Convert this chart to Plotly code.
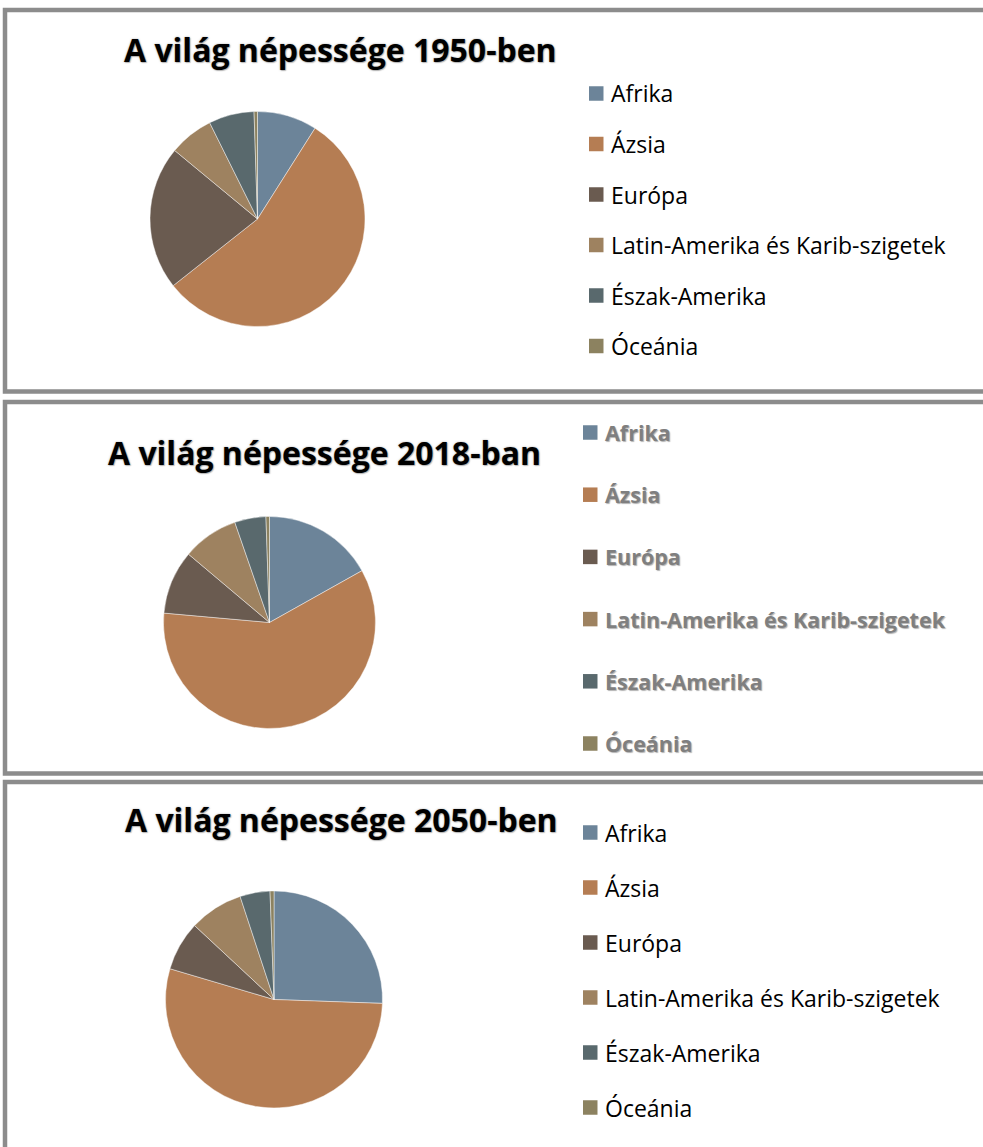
import plotly.graph_objects as go

W, H = 983, 1147

categories = ["Afrika", "Ázsia", "Európa", "Latin-Amerika és Karib-szigetek", "Észak-Amerika", "Óceánia"]
colors = ["#6C8499", "#B57D53", "#6A5B50", "#9E8260", "#59696D", "#8C8260"]

titles = ["A világ népessége 1950-ben", "A világ népessége 2018-ban", "A világ népessége 2050-ben"]
# population, millions
pop_1950 = [228, 1404, 549, 169, 173, 13]
pop_2018 = [1288, 4545, 743, 652, 364, 41]
pop_2050 = [2489, 5257, 716, 780, 435, 57]
series = [pop_1950, pop_2018, pop_2050]

# layout (pixels)
pie_centers = [(257.5, 219), (269.5, 622.5), (274, 999.5)]
pie_radius = [107.5, 106, 108.5]
title_pos = [(122, 50), (106, 452), (123, 820)]
legend_x = [589, 583, 583]
legend_y0 = [93.5, 432.5, 832.5]
legend_step = [50.5, 62.2, 55]
panel_boxes = [(10, 391.5), (402, 773.5), (782, 1170)]

FONT = "Open Sans"

def px(x):
    return x / W

def py(y):
    return 1 - y / H

fig = go.Figure()
shapes = []
annotations = []

for i, vals in enumerate(series):
    cx, cy = pie_centers[i]
    r = pie_radius[i]
    fig.add_trace(go.Pie(
        labels=categories, values=vals, sort=False, direction="clockwise", rotation=0,
        marker=dict(colors=colors, line=dict(color="rgba(255,255,255,0.55)", width=0.8)),
        textinfo="none", hoverinfo="label+percent", showlegend=False,
        domain=dict(x=[px(cx - r), px(cx + r)], y=[py(cy + r), py(cy - r)]),
    ))

    y0, y1 = panel_boxes[i]
    shapes.append(dict(type="rect", xref="paper", yref="paper",
                       x0=px(5), x1=px(1010), y0=py(y1), y1=py(y0),
                       line=dict(color="#8C8C8C", width=4.5), fillcolor="rgba(0,0,0,0)", layer="below"))

    tx, ty = title_pos[i]
    annotations.append(dict(
        text=titles[i], x=px(tx), y=py(ty), xref="paper", yref="paper",
        xanchor="left", yanchor="middle", showarrow=False,
        font=dict(family=FONT, size=32, color="#000000", weight="bold",
                  shadow="0px 0px 2px rgba(90,90,90,0.55), 1px 1px 1px rgba(110,110,110,0.4)"),
    ))

    for j, cat in enumerate(categories):
        yc = legend_y0[i] + j * legend_step[i]
        sx = legend_x[i]
        shapes.append(dict(type="rect", xref="paper", yref="paper",
                           x0=px(sx), x1=px(sx + 14.5), y0=py(yc + 7.25), y1=py(yc - 7.25),
                           line=dict(width=0), fillcolor=colors[j]))
        if i == 1:
            f = dict(family=FONT, size=21.5, color="#7F7F7F", weight="bold",
                     shadow="1px 1px 1px rgba(0,0,0,0.3)")
        else:
            f = dict(family=FONT, size=23, color="#000000")
        annotations.append(dict(
            text=cat, x=px(sx + 20), y=py(yc), xref="paper", yref="paper",
            xanchor="left", yanchor="middle", showarrow=False, font=f,
        ))

fig.update_layout(
    width=W, height=H, margin=dict(l=0, r=0, t=0, b=0),
    paper_bgcolor="white", plot_bgcolor="white",
    shapes=shapes, annotations=annotations,
)

fig.write_html("out.html", config={"displayModeBar": False},
               post_script="document.body.style.margin='0px';")
